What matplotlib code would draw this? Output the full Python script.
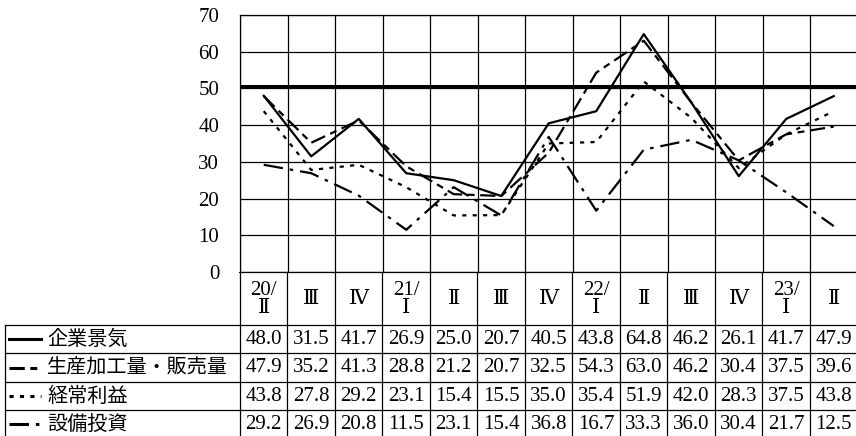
import matplotlib.pyplot as plt
import numpy as np

plt.rcParams['lines.scale_dashes'] = False

quarters = ['20/\nⅡ', 'Ⅲ', 'Ⅳ', '21/\nⅠ', 'Ⅱ', 'Ⅲ', 'Ⅳ', '22/\nⅠ', 'Ⅱ', 'Ⅲ', 'Ⅳ', '23/\nⅠ', 'Ⅱ']
business = [48.0, 31.5, 41.7, 26.9, 25.0, 20.7, 40.5, 43.8, 64.8, 46.2, 26.1, 41.7, 47.9]
production = [47.9, 35.2, 41.3, 28.8, 21.2, 20.7, 32.5, 54.3, 63.0, 46.2, 30.4, 37.5, 39.6]
profit = [43.8, 27.8, 29.2, 23.1, 15.4, 15.5, 35.0, 35.4, 51.9, 42.0, 28.3, 37.5, 43.8]
investment = [29.2, 26.9, 20.8, 11.5, 23.1, 15.4, 36.8, 16.7, 33.3, 36.0, 30.4, 21.7, 12.5]
labels = ['企業景気', '生産加工量・販売量', '経常利益', '設備投資']

series = [business, production, profit, investment]
# dash patterns in points
styles = ['-', (0, (11, 4, 5, 4)), (0, (3, 4.5)), (0, (14, 5, 2.5, 5))]

W, H = 856, 436
num_font = ['Liberation Serif', 'DejaVu Serif', 'Noto Sans CJK JP']
jp_font = ['Noto Sans CJK JP', 'DejaVu Sans']

fig = plt.figure(figsize=(W / 100, H / 100), dpi=100)

# pixel layout
x0, cw = 240, 617.5 / 13
y_top, y_zero = 15, 272
n = len(quarters)

ax = fig.add_axes([x0 / W, (H - y_zero) / H, cw * n / W, (y_zero - y_top) / H])
x = np.arange(n)
for vals, ls in zip(series, styles):
    ax.plot(x, vals, color='black', linestyle=ls, lw=1.6)
ax.axhline(50.7, color='black', lw=2.2)
ax.set_xlim(-0.5, n - 0.5)
ax.set_ylim(0, 70)
ax.set_yticks(range(0, 71, 10))
ax.set_xticks(np.arange(-0.5, n, 1))
ax.set_xticklabels([])
ax.tick_params(length=0, pad=15)
for t in ax.get_yticklabels():
    t.set_fontfamily(num_font)
    t.set_fontsize(15)
ax.grid(True, color='black', lw=0.9)
for s in ax.spines.values():
    s.set_linewidth(0.9)

# table below the chart
tb = fig.add_axes([0, 0, 1, (H - y_zero) / H])
tb.set_xlim(0, W)
tb.set_ylim(H, y_zero)
tb.axis('off')

rows = [325, 353.5, 382, 410, 438]
label_left = 5
for i in range(n + 1):
    tb.plot([x0 + i * cw] * 2, [y_zero, H], color='black', lw=0.9)
tb.plot([x0, W], [y_zero, y_zero], color='black', lw=1.4)
for r in rows[:-1]:
    tb.plot([label_left, W], [r, r], color='black', lw=0.9)
tb.plot([label_left, label_left], [rows[0], H], color='black', lw=0.9)

for i, q in enumerate(quarters):
    cx = x0 + (i + 0.5) * cw
    tb.text(cx, (y_zero + rows[0]) / 2 + 1, q, ha='center', va='center',
            fontfamily=num_font, fontsize=15, linespacing=0.95)

for k, (lab, vals, ls) in enumerate(zip(labels, series, styles)):
    cy = (rows[k] + rows[k + 1]) / 2
    tb.plot([9, 41], [cy, cy], color='black', linestyle=ls, lw=2.2)
    tb.text(47, cy, lab, ha='left', va='center', fontfamily=jp_font, fontsize=14.5)
    for i, v in enumerate(vals):
        cx = x0 + (i + 0.5) * cw
        tb.text(cx, cy, f'{v:.1f}', ha='center', va='center',
                fontfamily=num_font, fontsize=15)

fig.savefig('out.png', dpi=100)
